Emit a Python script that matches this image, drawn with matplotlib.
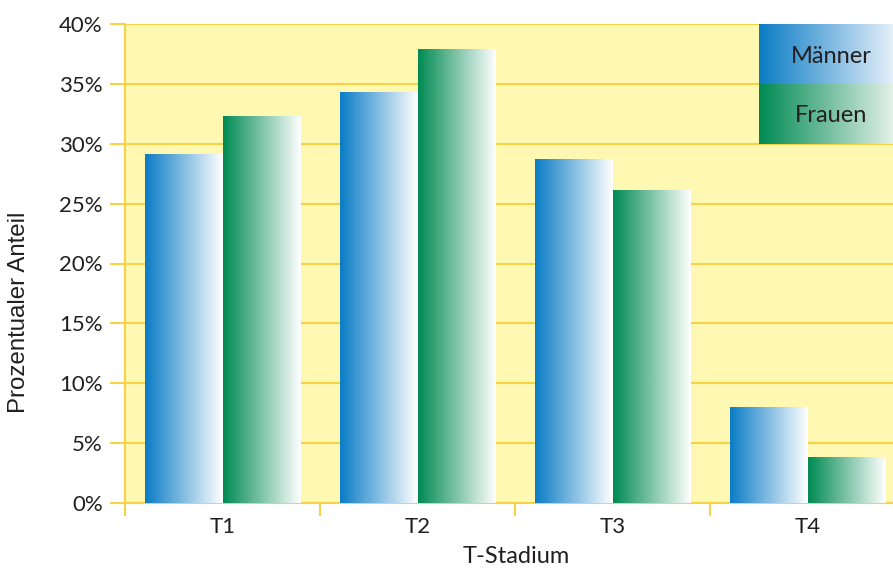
import matplotlib.pyplot as plt
import numpy as np
from matplotlib.colors import LinearSegmentedColormap

plt.rcParams['font.family'] = ['Lato', 'DejaVu Sans']

stadien = ['T1', 'T2', 'T3', 'T4']
maenner = [29.1, 34.3, 28.7, 8.0]
frauen = [32.3, 37.9, 26.1, 3.8]
yticks = [0, 5, 10, 15, 20, 25, 30, 35, 40]

gold = '#f8d246'
textcol = '#231f20'
blue_cm = LinearSegmentedColormap.from_list('b', ['#0a7cc5', '#ffffff'])
green_cm = LinearSegmentedColormap.from_list('g', ['#008a52', '#ffffff'])
grad = np.linspace(0, 1, 256).reshape(1, -1)

fig = plt.figure(figsize=(8.93, 5.70), dpi=100)
ax = fig.add_axes([125 / 893, 1 - 503 / 570, 768 / 893, 479 / 570])
ax.set_facecolor('#fff8b2')

w = 0.4
for i, (m, f) in enumerate(zip(maenner, frauen)):
    ax.imshow(grad, cmap=blue_cm, extent=(i - w, i, 0, m), aspect='auto', zorder=3)
    ax.imshow(grad, cmap=green_cm, extent=(i, i + w, 0, f), aspect='auto', zorder=3)

# legend boxes with gradient
ax.imshow(grad, cmap=LinearSegmentedColormap.from_list('lb', ['#0a7cc5', '#e6f0fa']),
          extent=(0.8255, 1.0, 0.875, 1.0), transform=ax.transAxes, aspect='auto', zorder=4)
ax.imshow(grad, cmap=LinearSegmentedColormap.from_list('lg', ['#008a52', '#e3f1e9']),
          extent=(0.8255, 1.0, 0.75, 0.875), transform=ax.transAxes, aspect='auto', zorder=4)
ax.text(0.92, 0.933, 'Männer', transform=ax.transAxes, ha='center', va='center',
        fontsize=17, color=textcol, zorder=5)
ax.text(0.92, 0.808, 'Frauen', transform=ax.transAxes, ha='center', va='center',
        fontsize=17, color=textcol, zorder=5)

ax.set_yticks(yticks)
ax.set_yticklabels([f'{v}%' for v in yticks])
ax.set_xticks(range(len(stadien)))
ax.set_xticklabels(stadien)
ax.set_xticks(np.arange(-0.5, len(stadien), 1), minor=True)
ax.set_xlim(-0.5, -0.5 + 768 / 195)
ax.set_ylim(0, 40)

ax.yaxis.grid(True, color=gold, lw=1.5, zorder=1)
ax.set_axisbelow(True)
ax.tick_params(axis='y', length=11, width=1.5, color=gold, labelsize=16, labelcolor=textcol, pad=5)
ax.tick_params(axis='x', which='major', length=0, labelsize=16, labelcolor=textcol, pad=10)
ax.tick_params(axis='x', which='minor', length=9, width=1.5, color=gold)

for s in ['top', 'right']:
    ax.spines[s].set_visible(False)
for s in ['left', 'bottom']:
    ax.spines[s].set_color(gold)
    ax.spines[s].set_linewidth(1.5)

ax.set_xlabel('T-Stadium', fontsize=17, color=textcol)
ax.set_ylabel('Prozentualer Anteil', fontsize=17.3, color=textcol,
              family=['Liberation Sans', 'DejaVu Sans'])
ax.xaxis.set_label_coords(0.509, -0.09)
ax.yaxis.set_label_coords(-0.124, 0.399)

fig.savefig('out.png', dpi=100)
